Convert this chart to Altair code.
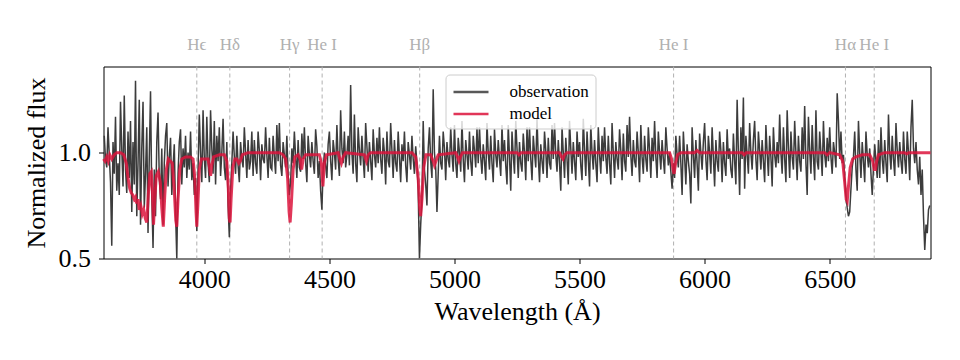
import altair as alt
import pandas as pd

# Observed spectrum: rows of 20 samples, 5 Angstrom apart, keyed by start wavelength
OBS_STEP = 5
obs_rows = {
    3600: [1.08, 0.97, 0.93, 1.12, 0.99, 0.86, 0.56, 1.05, 0.90, 1.17, 0.82, 0.95, 0.80, 1.24, 1.02, 0.84, 1.27, 0.92, 0.81, 1.10],
    3700: [0.88, 1.15, 0.72, 1.05, 0.85, 1.34, 0.70, 0.95, 1.25, 0.66, 1.02, 1.24, 0.74, 0.90, 1.12, 0.62, 0.98, 1.29, 0.80, 0.55],
    3800: [0.92, 0.70, 1.05, 1.19, 0.88, 0.78, 1.02, 0.66, 0.95, 1.08, 1.14, 0.84, 0.98, 1.07, 0.80, 0.93, 1.04, 0.72, 0.50, 0.90],
    3900: [1.05, 1.11, 0.85, 1.02, 0.93, 1.08, 0.88, 1.00, 0.92, 1.10, 0.87, 0.95, 0.80, 0.88, 0.63, 0.92, 1.18, 1.00, 0.86, 1.20],
    4000: [0.97, 0.88, 1.17, 0.95, 0.86, 1.20, 1.02, 0.90, 1.15, 0.85, 1.08, 0.96, 1.12, 0.89, 1.00, 1.16, 0.93, 0.87, 1.05, 0.75],
    4100: [0.60, 0.82, 0.95, 1.10, 0.98, 0.90, 1.08, 0.94, 0.86, 1.05, 0.97, 0.93, 1.12, 1.00, 0.88, 1.06, 0.92, 0.96, 1.10, 0.89],
    4200: [1.06, 0.95, 0.90, 1.10, 1.01, 0.87, 1.04, 0.97, 0.95, 1.12, 0.99, 0.88, 1.07, 0.93, 0.92, 1.08, 0.98, 0.90, 1.13, 0.96],
    4300: [1.14, 0.94, 0.89, 1.05, 0.99, 0.93, 1.08, 0.90, 0.80, 0.86, 1.02, 0.95, 1.10, 0.98, 0.88, 1.06, 0.93, 0.91, 1.09, 0.97],
    4400: [1.12, 0.95, 0.86, 1.08, 0.99, 0.93, 1.05, 0.96, 0.90, 1.11, 1.03, 0.88, 0.96, 0.82, 0.73, 0.92, 1.00, 0.94, 0.88, 1.04],
    4500: [1.10, 0.96, 0.87, 1.06, 1.00, 0.92, 1.13, 0.97, 0.89, 1.20, 1.02, 0.95, 1.10, 0.93, 0.99, 1.08, 0.94, 1.32, 1.00, 0.90],
    4600: [1.18, 0.95, 0.86, 1.12, 1.01, 0.94, 1.08, 0.97, 0.88, 1.14, 1.03, 0.91, 1.05, 0.96, 0.87, 1.11, 0.99, 0.93, 1.07, 0.95],
    4700: [1.12, 0.97, 0.90, 1.07, 1.00, 0.85, 1.10, 0.96, 0.93, 1.14, 1.01, 0.88, 1.06, 0.95, 0.91, 1.10, 0.98, 0.86, 1.04, 0.96],
    4800: [1.10, 0.94, 0.86, 1.05, 0.99, 0.92, 1.08, 0.97, 0.90, 1.03, 0.95, 0.82, 0.50, 0.66, 0.78, 1.15, 0.92, 0.85, 0.75, 1.02],
    4900: [1.12, 0.96, 0.88, 1.30, 1.00, 0.93, 0.72, 0.90, 1.08, 0.95, 0.92, 1.10, 1.02, 0.87, 1.05, 0.97, 0.93, 1.12, 0.99, 0.91],
    5000: [1.13, 0.95, 0.88, 1.07, 1.00, 0.91, 1.15, 0.97, 0.86, 1.06, 0.99, 0.92, 1.10, 0.96, 0.89, 1.08, 1.01, 0.93, 1.12, 0.95],
    5100: [1.12, 0.98, 0.90, 1.04, 0.96, 0.87, 1.14, 1.00, 0.92, 1.08, 0.95, 0.86, 1.11, 0.99, 0.93, 1.06, 0.97, 0.89, 1.13, 0.96],
    5200: [1.06, 0.94, 0.85, 1.13, 0.98, 0.82, 1.10, 0.99, 0.90, 1.15, 1.02, 0.88, 1.05, 0.95, 0.91, 1.09, 1.00, 0.87, 1.12, 0.96],
    5300: [1.12, 0.97, 0.87, 1.08, 1.00, 0.93, 1.16, 0.98, 0.86, 1.04, 0.96, 0.90, 1.10, 1.01, 0.88, 1.07, 0.95, 0.92, 1.13, 0.97],
    5400: [1.14, 0.99, 0.91, 1.06, 0.95, 0.82, 1.12, 1.00, 0.88, 1.07, 0.97, 0.85, 1.15, 1.02, 0.90, 1.05, 0.96, 0.87, 1.10, 0.98],
    5500: [1.05, 0.94, 0.87, 1.16, 1.01, 0.89, 1.10, 0.97, 0.84, 1.13, 1.00, 0.92, 1.06, 0.95, 0.86, 1.12, 0.99, 0.90, 1.08, 0.96],
    5600: [1.12, 0.98, 0.90, 1.08, 0.95, 0.85, 1.14, 1.00, 0.88, 1.05, 0.97, 0.92, 1.11, 1.01, 0.87, 1.09, 0.96, 0.91, 1.13, 0.98],
    5700: [1.17, 0.99, 0.89, 1.06, 0.96, 0.93, 1.10, 1.00, 0.86, 1.13, 0.98, 0.90, 1.08, 0.97, 0.91, 1.12, 1.01, 0.88, 1.07, 0.96],
    5800: [1.15, 0.98, 0.88, 1.10, 1.00, 0.92, 1.06, 0.97, 0.90, 1.12, 1.02, 0.94, 1.00, 0.91, 0.83, 0.95, 0.88, 1.08, 0.99, 0.93],
    5900: [1.08, 0.95, 0.80, 1.10, 0.98, 0.85, 1.04, 0.96, 0.90, 0.76, 1.12, 0.99, 0.88, 1.06, 0.95, 0.82, 1.09, 1.00, 0.92, 1.05],
    6000: [1.14, 0.97, 0.87, 1.08, 1.00, 0.90, 1.12, 0.98, 0.84, 1.06, 0.96, 0.91, 1.10, 1.01, 0.86, 1.05, 0.95, 0.89, 1.11, 0.97],
    6100: [1.02, 0.92, 0.88, 1.09, 0.96, 0.85, 1.25, 1.00, 0.80, 1.12, 0.97, 1.26, 0.83, 1.08, 0.99, 0.90, 1.14, 1.00, 0.92, 1.06],
    6200: [1.15, 0.97, 0.87, 1.10, 1.01, 0.92, 1.06, 0.96, 0.86, 1.13, 1.00, 0.89, 1.08, 0.98, 0.84, 1.12, 0.99, 0.93, 1.05, 0.95],
    6300: [1.18, 1.00, 0.90, 1.12, 0.97, 0.86, 1.20, 1.02, 0.88, 1.10, 0.98, 0.92, 1.15, 1.00, 0.87, 1.08, 0.96, 0.91, 1.12, 0.97],
    6400: [1.22, 0.95, 0.80, 1.17, 1.01, 0.90, 1.13, 0.98, 0.87, 1.20, 0.96, 0.92, 1.10, 1.00, 0.89, 1.15, 0.99, 0.93, 1.07, 0.96],
    6500: [1.12, 0.98, 0.90, 1.05, 1.00, 0.93, 1.28, 1.15, 0.97, 1.10, 0.95, 0.99, 0.88, 0.80, 0.74, 0.70, 0.72, 0.83, 0.93, 0.98],
    6600: [1.10, 0.92, 0.82, 1.15, 1.00, 0.88, 1.05, 0.96, 0.86, 1.10, 0.99, 0.93, 1.02, 0.90, 0.80, 0.93, 1.04, 0.96, 0.88, 1.06],
    6700: [0.88, 1.12, 0.97, 0.90, 1.06, 0.95, 0.86, 1.18, 1.00, 0.92, 1.08, 0.97, 0.89, 1.14, 1.01, 0.93, 1.05, 0.96, 0.90, 1.10],
    6800: [0.97, 0.90, 1.10, 1.00, 0.87, 1.12, 1.25, 1.02, 0.95, 1.05, 0.92, 0.85, 0.98, 0.80, 0.92, 0.70, 0.54, 0.66, 0.62, 0.73],
    6900: [0.75],
}

# Model spectrum: (wavelength, normalized flux)
model_points = [
    (3597, 0.97), (3603, 0.96), (3610, 0.98), (3616, 0.96), (3622, 0.99), (3630, 0.97),
    (3640, 0.99), (3650, 1.00), (3665, 1.00), (3678, 0.99), (3688, 0.95), (3695, 0.88),
    (3702, 0.83), (3708, 0.81), (3714, 0.80), (3720, 0.78), (3725, 0.79), (3730, 0.76),
    (3735, 0.78), (3740, 0.73), (3746, 0.75), (3752, 0.71), (3758, 0.73), (3764, 0.69),
    (3770, 0.67), (3776, 0.80), (3782, 0.90), (3788, 0.91), (3793, 0.80), (3797, 0.66),
    (3802, 0.78), (3808, 0.89), (3816, 0.91), (3824, 0.86), (3830, 0.74), (3836, 0.65),
    (3842, 0.80), (3848, 0.92), (3856, 0.97), (3864, 0.96), (3872, 0.95), (3880, 0.82),
    (3886, 0.68), (3890, 0.65), (3895, 0.78), (3902, 0.92), (3910, 0.97), (3925, 0.98),
    (3945, 0.98), (3955, 0.97), (3962, 0.88), (3967, 0.72), (3970, 0.65), (3974, 0.75),
    (3980, 0.92), (3988, 0.97), (4005, 0.97), (4015, 0.97), (4021, 0.93), (4025, 0.89),
    (4030, 0.94), (4037, 0.98), (4060, 0.99), (4080, 0.99), (4090, 0.96), (4096, 0.83),
    (4100, 0.69), (4103, 0.67), (4107, 0.78), (4114, 0.93), (4122, 0.97), (4130, 0.97),
    (4138, 0.95), (4144, 0.96), (4152, 0.99), (4175, 1.00), (4300, 1.00), (4315, 0.99),
    (4325, 0.97), (4333, 0.88), (4339, 0.72), (4343, 0.67), (4348, 0.76), (4355, 0.92),
    (4362, 0.98), (4375, 0.99), (4383, 0.97), (4389, 0.92), (4395, 0.97), (4405, 0.99),
    (4460, 0.99), (4468, 0.95), (4474, 0.84), (4480, 0.95), (4488, 0.99), (4535, 1.00),
    (4542, 0.97), (4548, 0.95), (4555, 0.98), (4565, 1.00), (4640, 0.99), (4648, 0.96),
    (4655, 0.99), (4665, 1.00), (4830, 1.00), (4845, 0.98), (4855, 0.88), (4861, 0.74),
    (4865, 0.70), (4870, 0.78), (4877, 0.93), (4886, 0.99), (4905, 0.99), (4915, 0.96),
    (4920, 0.94), (4926, 0.96), (4935, 0.99), (5005, 1.00), (5012, 0.98), (5018, 0.96),
    (5024, 0.98), (5032, 1.00), (5250, 1.00), (5258, 0.99), (5266, 1.00), (5420, 1.00),
    (5428, 0.98), (5434, 0.97), (5440, 0.99), (5450, 1.00), (5860, 1.00), (5868, 0.97),
    (5874, 0.92), (5878, 0.90), (5884, 0.95), (5892, 0.99), (5905, 1.00), (5960, 1.00),
    (5970, 1.01), (5980, 1.00), (6150, 1.00), (6158, 0.99), (6166, 1.00), (6480, 1.00),
    (6490, 0.99), (6500, 1.00), (6540, 0.99), (6552, 0.96), (6560, 0.86), (6566, 0.78),
    (6570, 0.77), (6575, 0.84), (6582, 0.93), (6592, 0.97), (6605, 0.98), (6630, 0.99),
    (6660, 0.99), (6672, 0.96), (6678, 0.92), (6683, 0.92), (6688, 0.96), (6695, 0.99),
    (6720, 1.00), (6800, 1.00), (6808, 0.995), (6816, 1.00), (6903, 1.00),
]

line_names = ["H\u03f5", "H\u03b4", "H\u03b3", "He I", "H\u03b2", "He I", "H\u03b1", "He I"]
line_wl = [3970, 4102, 4341, 4471, 4861, 5876, 6563, 6678]

x_ticks = [4000, 4500, 5000, 5500, 6000, 6500]
y_ticks = [0.5, 1.0]
X_DOMAIN = [3597, 6903]
Y_DOMAIN = [0.5, 1.407]

# ---- build tables ----
obs_wl, obs_flux = [], []
for start, vals in obs_rows.items():
    for i, v in enumerate(vals):
        obs_wl.append(start + OBS_STEP * i)
        obs_flux.append(v)
obs_df = pd.DataFrame({"wl": obs_wl, "flux": obs_flux, "series": "observation"})
model_df = pd.DataFrame({"wl": [p[0] for p in model_points],
                         "flux": [p[1] for p in model_points],
                         "series": "model"})
lines_df = pd.DataFrame({"wl": line_wl, "name": line_names})

SERIF = "Liberation Serif"
xs = alt.Scale(domain=X_DOMAIN, nice=False, zero=False)
ys = alt.Scale(domain=Y_DOMAIN, nice=False, zero=False)
color_scale = alt.Scale(domain=["observation", "model"], range=["#3c3c3c", "#DC143C"])

x_axis = alt.Axis(values=x_ticks, format="d", grid=False, domain=False, tickSize=5,
                  tickColor="black", labelFont=SERIF, labelFontSize=26, labelColor="black",
                  labelPadding=3, titleFont=SERIF, titleFontSize=26, titleFontWeight="normal",
                  titleColor="black", titlePadding=6)
y_axis = alt.Axis(values=y_ticks, format=".1f", grid=False, domain=False, tickSize=5,
                  tickColor="black", labelFont=SERIF, labelFontSize=26, labelColor="black",
                  labelPadding=8, titleFont=SERIF, titleFontSize=26, titleFontWeight="normal",
                  titleColor="black", titlePadding=9)

# horizontal stroke symbol, 35 px long, on a 20 px layout cell
legend = alt.Legend(title=None, orient="none", legendX=342, legendY=8,
                    symbolType="M-1.75,0H1.75", symbolSize=400, symbolStrokeWidth=2.5,
                    symbolOffset=8,
                    labelFont=SERIF, labelFontSize=17, labelColor="black", labelOffset=27,
                    fillColor="rgba(255,255,255,0.8)", strokeColor="#cccccc",
                    cornerRadius=4, padding=6, rowPadding=2)

rules = alt.Chart(lines_df).mark_rule(color="#b0b0b0", strokeDash=[4, 3], strokeWidth=1).encode(
    x=alt.X("wl:Q", scale=xs, axis=x_axis, title="Wavelength (Å)")
)
labels = alt.Chart(lines_df).mark_text(color="#b0b0b0", font=SERIF, fontSize=17,
                                       baseline="middle", align="center").encode(
    x=alt.X("wl:Q", scale=xs), y=alt.value(-22), text="name:N"
)
obs = alt.Chart(obs_df).mark_line(strokeWidth=1.5).encode(
    x=alt.X("wl:Q", scale=xs, axis=x_axis, title="Wavelength (Å)"),
    y=alt.Y("flux:Q", scale=ys, axis=y_axis, title="Normalized flux"),
    color=alt.Color("series:N", scale=color_scale, legend=legend),
)
model = alt.Chart(model_df).mark_line(strokeWidth=3, opacity=0.85).encode(
    x=alt.X("wl:Q", scale=xs),
    y=alt.Y("flux:Q", scale=ys),
    color=alt.Color("series:N", scale=color_scale, legend=legend),
)

chart = alt.layer(rules, obs, model, labels).properties(
    width=827, height=192,
    autosize=alt.AutoSizeParams(type="none"),
    padding={"left": 95.5, "top": 58.5, "right": 20, "bottom": 85},
).configure(
    background="white", font=SERIF
).configure_view(
    stroke="#000000", strokeWidth=1, strokeOpacity=1
).configure_axis(
    labelFont=SERIF, titleFont=SERIF
).configure_legend(
    labelFont=SERIF
).configure_text(
    font=SERIF
)

chart.save("out.html", embed_options={"renderer": "svg", "actions": False})
